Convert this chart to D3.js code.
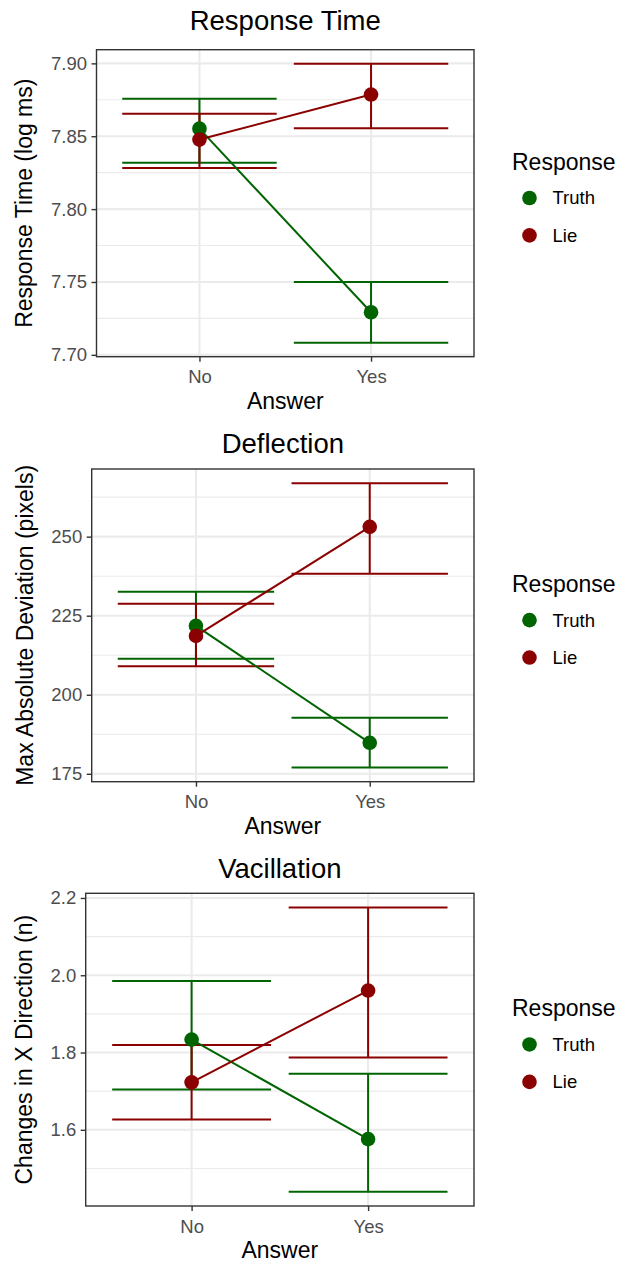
<!DOCTYPE html>
<html>
<head>
<meta charset="utf-8">
<script src="https://cdn.jsdelivr.net/npm/d3@7"></script>
<style>
  body { margin: 0; background: #fff; }
  text { font-family: "Liberation Sans", Arial, sans-serif; }
</style>
</head>
<body>
<div id="chart"></div>
<script>
// categories
const answers = ["No", "Yes"];
const groups = ["Truth", "Lie"];
const groupColors = ["#006400", "#8B0000"];

// [mean, lower, upper] for each answer (No, Yes)
const rtTruth = [[7.8552, 7.8318, 7.8757], [7.7292, 7.7083, 7.7500]];
const rtLie = [[7.8477, 7.8282, 7.8654], [7.8786, 7.8554, 7.8998]];
const rtTicks = [7.70, 7.75, 7.80, 7.85, 7.90];

const defTruth = [[221.8, 211.4, 232.6], [184.8, 177.0, 192.7]];
const defLie = [[218.6, 209.0, 228.8], [253.1, 238.3, 266.9]];
const defTicks = [175, 200, 225, 250];

const vacTruth = [[1.8335, 1.7040, 1.9853], [1.5760, 1.4396, 1.7450]];
const vacLie = [[1.7228, 1.6268, 1.8198], [1.9604, 1.7871, 2.1753]];
const vacTicks = [1.6, 1.8, 2.0, 2.2];

const panels = [
    {title: "Response Time", ytitle: "Response Time (log ms)", series: [rtTruth, rtLie], ticks: rtTicks,
     fmt: d3.format(".2f"), left: 96.5, top: 49.7, bottom: 356.7, titleY: 30, yTitleX: 24},
    {title: "Deflection", ytitle: "Max Absolute Deviation (pixels)", series: [defTruth, defLie], ticks: defTicks,
     fmt: d3.format("d"), left: 91.7, top: 469, bottom: 781.7, titleY: 453, yTitleX: 25},
    {title: "Vacillation", ytitle: "Changes in X Direction (n)", series: [vacTruth, vacLie], ticks: vacTicks,
     fmt: d3.format(".1f"), left: 85.7, top: 893.3, bottom: 1206, titleY: 877.5, yTitleX: 24}
];

const width = 629, height = 1264, right = 474;

const svg = d3.select("#chart").append("svg")
    .attr("width", width)
    .attr("height", height);

panels.forEach(p => {
    const g = svg.append("g");

    // y domain: data range plus 5% each side, like ggplot
    const all = p.series.flat(2);
    const lo = d3.min(all), hi = d3.max(all), pad = (hi - lo) * 0.05;
    const y = d3.scaleLinear().domain([lo - pad, hi + pad]).range([p.bottom, p.top]);
    const x = d3.scalePoint().domain(answers).range([p.left, right]).padding(0.6);
    const step = x.step();

    // minor grid at midpoints between major ticks
    const minor = [];
    const tk = p.ticks;
    const d = tk[1] - tk[0];
    for (let v = tk[0] - d / 2; v <= tk[tk.length - 1] + d / 2 + 1e-9; v += d) {
        if (v >= y.domain()[0] && v <= y.domain()[1]) minor.push(v);
    }
    g.selectAll(".minor").data(minor).enter().append("line")
        .attr("x1", p.left).attr("x2", right)
        .attr("y1", v => y(v)).attr("y2", v => y(v))
        .attr("stroke", "#EBEBEB").attr("stroke-width", 1.1);
    g.selectAll(".majorY").data(tk).enter().append("line")
        .attr("x1", p.left).attr("x2", right)
        .attr("y1", v => y(v)).attr("y2", v => y(v))
        .attr("stroke", "#EBEBEB").attr("stroke-width", 2.1);
    g.selectAll(".majorX").data(answers).enter().append("line")
        .attr("x1", a => x(a)).attr("x2", a => x(a))
        .attr("y1", p.top).attr("y2", p.bottom)
        .attr("stroke", "#EBEBEB").attr("stroke-width", 2.1);

    // error bars
    p.series.forEach((s, gi) => {
        const col = groupColors[gi];
        const eb = g.append("g").attr("stroke", col).attr("stroke-width", 2).attr("fill", "none");
        s.forEach((v, ai) => {
            const cx = x(answers[ai]);
            eb.append("line").attr("x1", cx).attr("x2", cx).attr("y1", y(v[1])).attr("y2", y(v[2]));
            eb.append("line").attr("x1", cx - step * 0.45).attr("x2", cx + step * 0.45)
                .attr("y1", y(v[1])).attr("y2", y(v[1]));
            eb.append("line").attr("x1", cx - step * 0.45).attr("x2", cx + step * 0.45)
                .attr("y1", y(v[2])).attr("y2", y(v[2]));
        });
    });

    // connecting lines
    p.series.forEach((s, gi) => {
        g.append("path")
            .datum(s)
            .attr("fill", "none")
            .attr("stroke", groupColors[gi])
            .attr("stroke-width", 2)
            .attr("d", d3.line().x((v, i) => x(answers[i])).y(v => y(v[0])));
    });

    // points
    p.series.forEach((s, gi) => {
        g.selectAll(null).data(s).enter().append("circle")
            .attr("cx", (v, i) => x(answers[i]))
            .attr("cy", v => y(v[0]))
            .attr("r", 7.3)
            .attr("fill", groupColors[gi]);
    });

    // panel border
    g.append("rect")
        .attr("x", p.left).attr("y", p.top)
        .attr("width", right - p.left).attr("height", p.bottom - p.top)
        .attr("fill", "none").attr("stroke", "#333333").attr("stroke-width", 1.4);

    // axes
    const yAxis = g.append("g")
        .attr("transform", `translate(${p.left},0)`)
        .call(d3.axisLeft(y).tickValues(tk).tickFormat(p.fmt).tickSize(5).tickPadding(4.5));
    const xAxis = g.append("g")
        .attr("transform", `translate(0,${p.bottom})`)
        .call(d3.axisBottom(x).tickSize(5).tickPadding(4));
    [yAxis, xAxis].forEach(ax => {
        ax.select(".domain").remove();
        ax.selectAll(".tick line").attr("stroke", "#333333").attr("stroke-width", 1.4);
        ax.selectAll(".tick text").attr("fill", "#4D4D4D").style("font-size", "18.5px")
            .style("font-family", "'Liberation Sans', Arial, sans-serif");
    });
    xAxis.selectAll(".tick text").attr("dy", "0.95em");

    // titles
    g.append("text")
        .attr("x", (p.left + right) / 2).attr("y", p.titleY)
        .attr("text-anchor", "middle").style("font-size", "27.5px")
        .text(p.title);
    g.append("text")
        .attr("x", (p.left + right) / 2).attr("y", p.bottom + 52)
        .attr("text-anchor", "middle").style("font-size", "23px")
        .text("Answer");
    g.append("text")
        .attr("transform", `translate(${p.yTitleX},${(p.top + p.bottom) / 2}) rotate(-90)`)
        .attr("text-anchor", "middle").attr("dy", "0.35em").style("font-size", "23px")
        .text(p.ytitle);

    // legend
    const cy = (p.top + p.bottom) / 2;
    const lg = g.append("g").attr("transform", `translate(512,${cy})`);
    lg.append("text").attr("x", 0).attr("y", -33.5).style("font-size", "23px").text("Response");
    groups.forEach((name, gi) => {
        const ky = gi === 0 ? -5.2 : 32.2;
        lg.append("circle").attr("cx", 17.5).attr("cy", ky).attr("r", 7.3).attr("fill", groupColors[gi]);
        lg.append("text").attr("x", 40.5).attr("y", ky).attr("dy", "0.35em")
            .style("font-size", "18.5px").text(name);
    });
});
</script>
</body>
</html>
